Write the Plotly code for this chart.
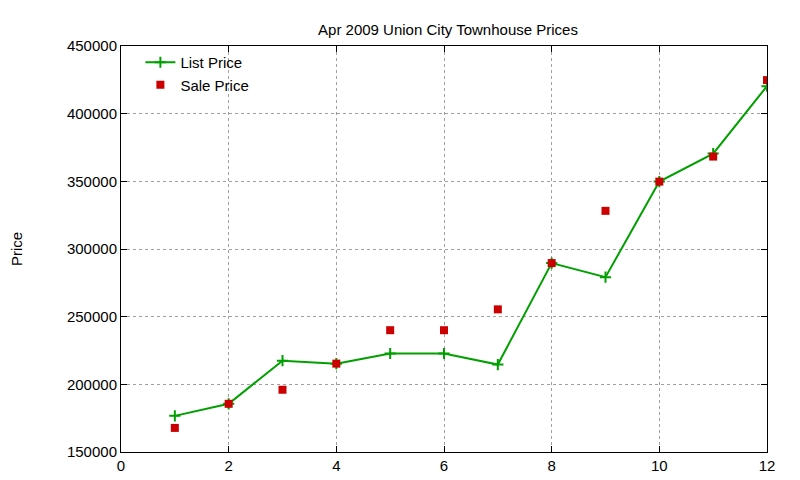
import plotly.graph_objects as go

months = [1, 2, 3, 4, 5, 6, 7, 8, 9, 10, 11, 12]
list_price = [176700, 185600, 217500, 215300, 222800, 222800, 214600, 289600, 279200, 349800, 370500, 420300]
sale_price = [167800, 185600, 196000, 215300, 240000, 240000, 255400, 289600, 328200, 349800, 368300, 424800]

fig = go.Figure()
fig.add_trace(go.Scatter(x=months, y=list_price, mode="lines+markers", name="List Price",
                         line=dict(color="#00a000", width=2),
                         marker=dict(symbol="cross-thin", size=8, line=dict(color="#00a000", width=2))))
fig.add_trace(go.Scatter(x=months, y=sale_price, mode="markers", name="Sale Price",
                         marker=dict(symbol="square", size=8, color="#cc0000")))

ax = dict(showline=True, linecolor="black", linewidth=1, mirror="ticks", ticks="inside",
          ticklen=6, tickcolor="black", showgrid=True, gridcolor="#a0a0a0", griddash="dot",
          zeroline=False, tickfont=dict(size=15, color="black"))
fig.update_xaxes(range=[0, 12], dtick=2, **ax)
fig.update_yaxes(range=[150000, 450000], dtick=50000, tickformat="d",
                 title=dict(text="Price", font=dict(size=15, color="black"), standoff=40), **ax)
fig.update_layout(
    width=800, height=480, plot_bgcolor="white", paper_bgcolor="white",
    font=dict(family="Liberation Sans, Arial, sans-serif", color="black"),
    title=dict(text="Apr 2009 Union City Townhouse Prices", x=0.55, xanchor="center", y=0.965,
               font=dict(size=15, color="black")),
    margin=dict(l=113, r=41, t=38, b=36, autoexpand=False),
    legend=dict(x=0.03, y=1.0, xanchor="left", yanchor="top", bgcolor="rgba(0,0,0,0)",
                font=dict(size=15), tracegroupgap=0),
    showlegend=True,
)
fig.write_html("out.html")
